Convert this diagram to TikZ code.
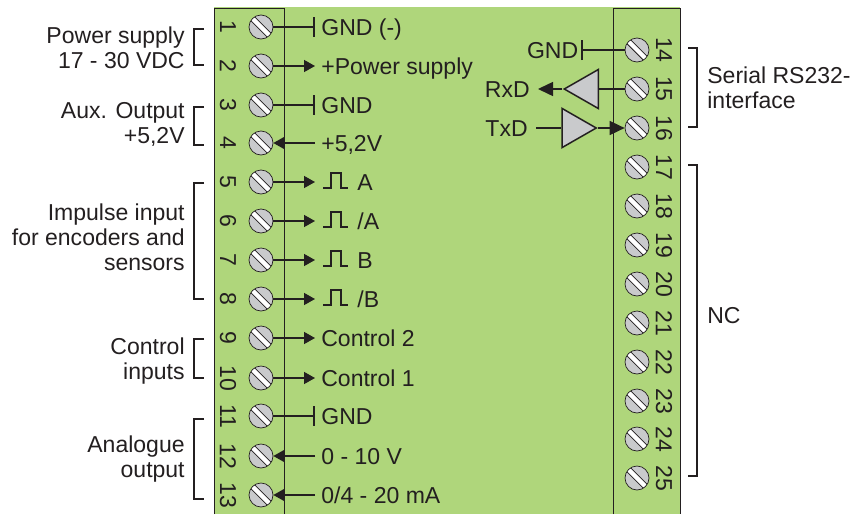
\documentclass[tikz,border=0pt]{standalone}
\usepackage{fontspec}
\setmainfont{Liberation Sans}
\usepackage{xcolor}
\usetikzlibrary{shapes,positioning,arrows.meta}

\definecolor{boardgreen}{HTML}{AFD67B}
\definecolor{screwgrey}{HTML}{C9CACC}
\definecolor{inkdark}{HTML}{231F20}

\tikzset{
    every node/.style={font=\fontsize{13.1pt}{14.3pt}\selectfont, text=inkdark},
    wire/.style={draw=inkdark, line width=0.85pt},
    towire/.style={wire, -{Triangle[length=0.22cm,width=0.24cm]}},
    serialwire/.style={wire, -{Triangle[length=0.3cm,width=0.28cm]}},
    teewire/.style={wire, -{Bar[width=0.4cm,line width=1pt]}},
    bracketline/.style={draw=inkdark, line width=0.85pt},
    screw/.style={circle, draw=inkdark, line width=0.4pt, fill=screwgrey, minimum size=0.48cm, inner sep=0pt,
        path picture={
            \draw[inkdark, line width=0.125cm] (path picture bounding box.north west) -- (path picture bounding box.south east);
            \draw[white, line width=0.085cm] (path picture bounding box.north west) -- (path picture bounding box.south east);
        }},
    pinnum/.style={rotate=-90, inner sep=0pt},
    pinlabel/.style={anchor=west, inner xsep=0.12cm, inner ysep=0pt, text height=9.4pt, text depth=0pt},
    grouplabel/.style={inner sep=0pt},
    amp/.style={isosceles triangle, isosceles triangle stretches, draw=inkdark, line width=0.85pt, fill=screwgrey,
        inner sep=0pt, minimum width=0.78cm, minimum height=0.68cm}
}

\begin{document}
\begin{tikzpicture}[x=0.02cm,y=-0.02cm]
    \useasboundingbox (0,0) rectangle (852,514);

    % Board and terminal strips
    \fill[boardgreen] (214,7) rectangle (680,514);
    \draw[wire, line width=0.5pt] (214,514) -- (214,8) -- (284,8) -- (284,514);
    \draw[wire, line width=0.5pt] (613,514) -- (613,8) -- (680,8) -- (680,514);

    % Left terminals
    \foreach \n/\y in {1/27,2/66,3/105,4/143,5/182,6/221,7/260,8/299,9/338,10/378,11/416,12/456,13/495} {
        \node[screw] (s\n) at (261,\y) {};
        \node[pinnum] (n\n) at (228,\y) {\n};
    }

    % Right terminals
    \foreach \n/\y in {14/50,15/89,16/128,17/167,18/206,19/245,20/284,21/323,22/362,23/401,24/439,25/478} {
        \node[screw] (s\n) at (637,\y) {};
        \node[pinnum] (n\n) at (664,\y) {\n};
    }

    % Plain signals
    \foreach \n/\y/\txt in {1/27/{GND (-)},2/66/{+Power supply},3/105/GND,4/143/{+5,2V},9/338/{Control 2},10/378/{Control 1},11/416/GND,12/456/{0 - 10 V},13/495/{0/4 - 20 mA}} {
        \node[pinlabel] (l\n) at (315,\y) {\txt};
    }
    \foreach \n in {1,3,11} {
        \draw[teewire] (s\n) -- (l\n.west);
    }
    \foreach \n in {2,9,10} {
        \draw[towire] (s\n) -- (l\n.west);
    }
    \foreach \n in {4,12,13} {
        \draw[towire] (l\n.west) -- (s\n);
    }

    % Impulse signals
    \foreach \n/\y/\txt in {5/182/A,6/221/{/A},7/260/B,8/299/{/B}} {
        \coordinate (p\n) at (315,\y);
        \draw[towire] (s\n) -- (p\n);
        \draw[wire, line width=1pt] (323,\y+6) -- (331,\y+6) -- (331,\y-9) -- (341,\y-9) -- (341,\y+6) -- (348,\y+6);
        \node[pinlabel] (l\n) at (351,\y) {\txt};
    }

    % Serial interface
    \node[pinlabel, anchor=east, inner xsep=0.05cm] (gndr) at (581,50) {GND};
    \draw[teewire] (s14) -- (gndr.east);

    \node[amp, shape border rotate=180] (rxamp) at (587,89) {};
    \node[pinlabel, anchor=east, inner xsep=0.16cm] (rxd) at (538,89) {RxD};
    \draw[wire] (s15) -- (rxamp.lower side);
    \draw[serialwire] (rxamp.apex) -- (rxd.east);

    \node[amp] (txamp) at (573.5,128) {};
    \node[pinlabel, anchor=east, inner xsep=0.16cm] (txd) at (536,128) {TxD};
    \draw[wire] (txd.east) -- (txamp.lower side);
    \draw[serialwire] (txamp.apex) -- (s16);

    % Brackets on the left
    \foreach \a/\b in {29/65,107/145,183/299,339/378,419/499} {
        \draw[bracketline] (204,\a) -- (194,\a) -- (194,\b) -- (204,\b);
    }

    % Brackets on the right
    \foreach \a/\b in {48/127,165/476} {
        \draw[bracketline] (688,\a) -- (697,\a) -- (697,\b) -- (688,\b);
    }

    % Group labels
    \node[grouplabel, anchor=east, align=right] (gpower) at (185,48) {Power supply\\17 - 30 VDC};
    \node[grouplabel, anchor=east, align=right] (gaux) at (185,124) {Aux. Output\\+5,2V};
    \node[grouplabel, anchor=east, align=right] (gimp) at (185,237) {Impulse input\\for encoders and\\sensors};
    \node[grouplabel, anchor=east, align=right] (gctl) at (185,361) {Control\\inputs};
    \node[grouplabel, anchor=east, align=right] (gana) at (185,459) {Analogue\\output};
    \node[grouplabel, anchor=west, align=left] (gser) at (707,88) {Serial RS232-\\interface};
    \node[grouplabel, anchor=west] (gnc) at (707,316) {NC};
\end{tikzpicture}
\end{document}
